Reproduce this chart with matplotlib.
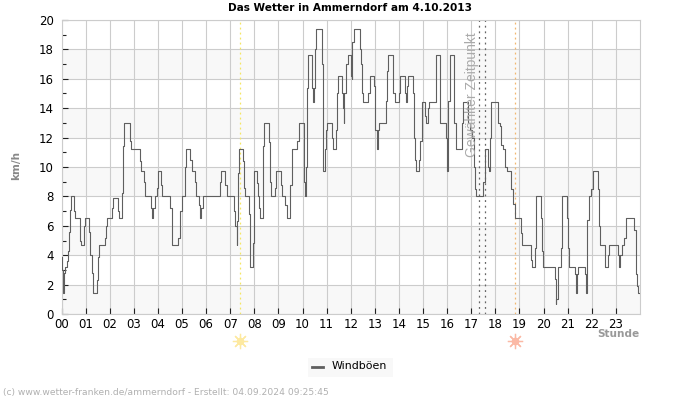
import matplotlib
matplotlib.use("Agg")
import matplotlib.pyplot as plt
import numpy as np

# (minute of the day, gust value from there on)
gust_steps = [(0, 3.9), (1, 3.0), (3, 1.4), (6, 2.8), (8, 3.2), (14, 3.6), (17, 4.3), (19, 5.6), (21, 7.1), (24, 8.0),
              (30, 7.0), (34, 6.5), (45, 6.0), (47, 5.0), (49, 4.7), (55, 6.0), (59, 6.5), (68, 5.6), (71, 4.0),
              (76, 2.8), (78, 1.9), (79, 1.4), (89, 2.3), (92, 3.9), (94, 4.7), (108, 5.2), (110, 6.0), (113, 6.5),
              (125, 7.2), (128, 7.9), (141, 7.0), (143, 6.5), (151, 8.2), (153, 11.4), (155, 13.0), (171, 11.8),
              (173, 11.2), (195, 10.4), (197, 9.7), (205, 9.0), (208, 8.0), (222, 7.2), (226, 6.5), (228, 7.2),
              (232, 8.0), (237, 8.6), (240, 9.7), (247, 8.8), (250, 8.0), (271, 7.2), (274, 5.6), (276, 4.7),
              (291, 5.2), (294, 6.0), (296, 7.0), (300, 8.0), (307, 10.0), (310, 11.2), (321, 10.5), (325, 9.7),
              (332, 9.0), (335, 8.0), (342, 7.4), (345, 6.5), (348, 7.2), (351, 8.0), (394, 9.0), (398, 9.7),
              (408, 8.8), (412, 8.0), (429, 7.0), (433, 6.0), (437, 4.7), (438, 6.3), (440, 9.6), (442, 11.2),
              (451, 10.4), (454, 8.6), (457, 8.0), (466, 6.8), (468, 4.4), (470, 3.2), (476, 4.8), (478, 8.0),
              (480, 9.7), (486, 8.9), (489, 8.0), (492, 7.2), (495, 6.5), (501, 8.0), (502, 11.4), (505, 13.0),
              (516, 11.7), (518, 9.0), (521, 8.0), (532, 8.6), (535, 9.7), (547, 8.8), (550, 8.0), (557, 7.4),
              (561, 6.5), (568, 7.5), (570, 8.8), (573, 10.0), (575, 11.2), (587, 11.8), (590, 13.0), (604, 9.0),
              (607, 8.0), (608, 10.0), (610, 14.4), (611, 15.4), (613, 17.6), (624, 15.4), (627, 14.4), (628, 15.4),
              (630, 18.0), (633, 19.4), (649, 17.0), (650, 12.0), (652, 9.7), (655, 11.2), (658, 12.5), (662, 13.0),
              (673, 12.0), (677, 11.2), (683, 12.5), (685, 15.0), (688, 16.2), (698, 15.0), (700, 14.0), (702, 13.0),
              (703, 15.0), (707, 16.2), (709, 17.0), (712, 17.6), (720, 16.2), (722, 16.0), (724, 18.5), (727, 19.4),
              (743, 18.0), (746, 17.0), (749, 15.0), (751, 14.4), (764, 15.0), (767, 16.2), (778, 15.5), (780, 14.0),
              (781, 12.5), (785, 11.2), (788, 12.5), (791, 13.0), (808, 14.5), (810, 16.5), (812, 17.6), (824, 16.0),
              (826, 15.0), (829, 14.4), (839, 15.0), (843, 16.2), (855, 15.0), (858, 14.4), (860, 15.5), (863, 16.2),
              (875, 15.0), (877, 12.0), (879, 10.5), (882, 10.0), (883, 9.7), (890, 10.5), (893, 11.8), (897, 13.5),
              (898, 14.4), (905, 13.5), (908, 13.0), (912, 14.0), (914, 14.4), (931, 16.0), (933, 17.6), (941, 14.4),
              (943, 13.0), (957, 12.0), (960, 9.7), (962, 10.8), (963, 14.5), (966, 17.6), (977, 15.5), (978, 13.0),
              (981, 11.2), (997, 13.0), (1000, 14.4), (1011, 13.0), (1018, 12.5), (1022, 12.0), (1026, 10.0),
              (1029, 8.5), (1031, 8.0), (1050, 9.0), (1053, 11.0), (1055, 11.2), (1061, 10.0), (1065, 9.7),
              (1067, 12.0), (1070, 14.4), (1087, 13.0), (1091, 12.8), (1095, 11.5), (1100, 11.2), (1105, 10.0),
              (1108, 9.7), (1119, 8.5), (1123, 7.5), (1128, 6.5), (1144, 5.5), (1147, 4.7), (1169, 3.7), (1172, 3.2),
              (1178, 4.5), (1180, 6.5), (1182, 8.0), (1194, 6.5), (1197, 4.3), (1198, 3.2), (1228, 2.4), (1231, 0.7),
              (1232, 1.0), (1235, 2.4), (1236, 3.2), (1243, 4.5), (1245, 6.5), (1247, 8.0), (1259, 6.5), (1261, 4.5),
              (1263, 3.2), (1278, 2.7), (1280, 1.4), (1283, 2.7), (1286, 3.2), (1303, 2.7), (1305, 1.4), (1308, 3.0),
              (1309, 6.4), (1312, 8.0), (1319, 8.5), (1324, 9.7), (1336, 8.5), (1338, 6.0), (1340, 4.7), (1352, 4.0),
              (1354, 3.2), (1361, 4.0), (1363, 4.7), (1385, 4.0), (1388, 3.2), (1391, 4.0), (1394, 4.7), (1401, 5.2),
              (1404, 6.5), (1426, 5.7), (1429, 4.0), (1431, 2.7), (1433, 1.9), (1435, 1.4), (1438, 1.4)]
y_ticks = [0, 2, 4, 6, 8, 10, 12, 14, 16, 18, 20]
hour_labels = ["%02d" % h for h in range(24)]
sunrise = 7.4
sunset = 18.8
chosen_times = [17.3, 17.55]

fig = plt.figure(figsize=(7, 4), dpi=100)
ax = fig.add_axes([61.5 / 700, 1 - 314 / 400, 578.5 / 700, 294 / 400])

steps = np.array(gust_steps)
hours = steps[:, 0] / 60
gusts = steps[:, 1]
ax.set_xlim(0, 24)
ax.set_ylim(0, 20)

# striped background
for low in [0, 4, 8, 12, 16]:
    ax.axhspan(low, low + 2, color="#f8f8f8", lw=0, zorder=0)
ax.grid(True, color="#cccccc", lw=0.8, zorder=1)
ax.set_axisbelow(True)

ax.plot(hours, gusts, drawstyle="steps-post", color="#5f5f5f", lw=0.8, zorder=3)

ax.axvline(sunrise, color="#f5e663", lw=0.9, ls=(0, (1.5, 2.5)), zorder=2)
ax.axvline(sunset, color="#f2b76e", lw=0.9, ls=(0, (1.5, 2.5)), zorder=2)
for t in chosen_times:
    ax.axvline(t, color="#666666", lw=0.9, ls=(0, (1.5, 3)), zorder=2)

ax.text(17.03, 20 - 0.85, "Gewählter Zeitpunkt", rotation=90, color="#aaaaaa", fontsize=10,
        family="Liberation Sans", ha="center", va="top", zorder=4)

ax.set_xticks(range(24))
ax.set_xticklabels(hour_labels, fontsize=8.5)
ax.set_yticks(y_ticks)
ax.set_yticklabels(y_ticks, fontsize=8.5)
ax.set_yticks(range(1, 20, 2), minor=True)
ax.tick_params(axis="x", which="major", direction="in", length=4, width=0.8, color="#222222", pad=3)
ax.tick_params(axis="y", which="major", direction="in", length=4, width=0.8, color="#222222", pad=5.5)
ax.tick_params(axis="y", which="minor", direction="in", length=3, width=0.8, color="#222222")
for s in ax.spines.values():
    s.set_color("#cccccc")

ax.set_ylabel("km/h", fontsize=7.5, fontweight="bold", color="#888888")
ax.yaxis.set_label_coords((21 - 61.5) / 578.5, (314 - 165) / 294)

fig.text(350 / 700, 1 - 8 / 400, "Das Wetter in Ammerndorf am 4.10.2013", fontsize=7.6, fontweight="bold",
         ha="center", va="center")
fig.text(639 / 700, 1 - 334 / 400, "Stunde", fontsize=7.6, fontweight="bold", color="#999999",
         ha="right", va="center")

# sun symbols below the axis
trans = ax.get_xaxis_transform()
for when, col in [(sunrise, "#fde9a0"), (sunset, "#fbb9a5")]:
    ax.plot([when], [-27 / 294], transform=trans, marker=(8, 2, 0), ms=11, mew=0.9, color=col, clip_on=False)
    ax.plot([when], [-27 / 294], transform=trans, marker="o", ms=5.5, mew=0, color=col, clip_on=False)

# legend box
fig.patches.append(plt.Rectangle((308 / 700, 1 - 377 / 400), 85 / 700, 19 / 400, transform=fig.transFigure,
                                 color="#f8f8f8", lw=0))
fig.add_artist(plt.Line2D([312 / 700, 323 / 700], [1 - 367 / 400] * 2, color="#5f5f5f", lw=2))
fig.text(332 / 700, 1 - 366 / 400, "Windböen", fontsize=7.9, va="center")

fig.text(3 / 700, 1 - 393 / 400, "(c) www.wetter-franken.de/ammerndorf - Erstellt: 04.09.2024 09:25:45",
         fontsize=6.55, color="#b0b0b0", va="center")

fig.savefig("out.png", dpi=100)
